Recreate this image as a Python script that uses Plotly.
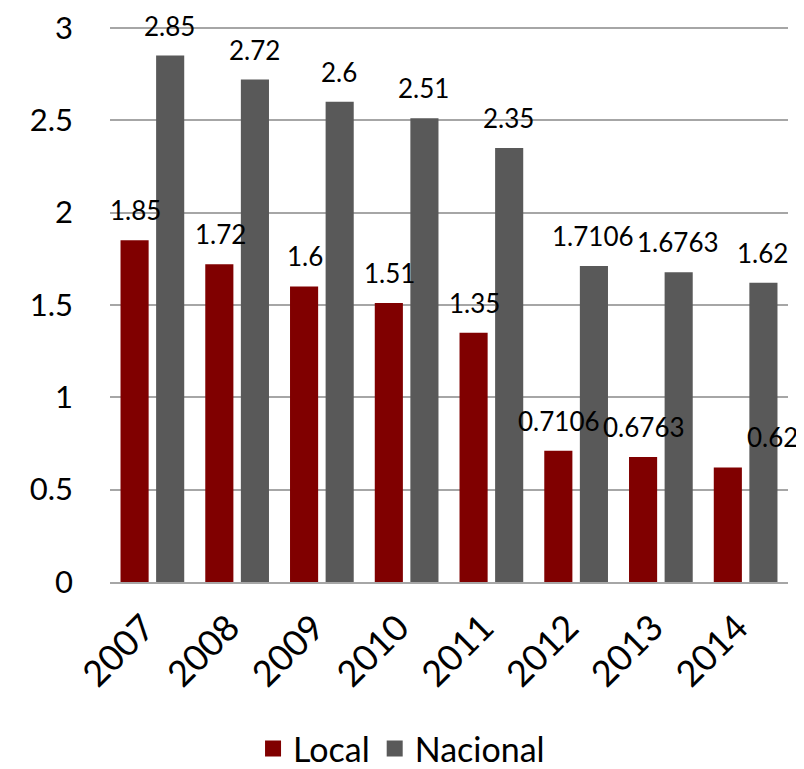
import plotly.graph_objects as go

YEARS = ["2007", "2008", "2009", "2010", "2011", "2012", "2013", "2014"]
LOCAL = [1.85, 1.72, 1.6, 1.51, 1.35, 0.7106, 0.6763, 0.62]
NACIONAL = [2.85, 2.72, 2.6, 2.51, 2.35, 1.7106, 1.6763, 1.62]

LOCAL_COLOR = "#800000"
NACIONAL_COLOR = "#595959"
GRID = "#a6a6a6"
FONT = "Lato, 'Noto Sans', sans-serif"

fig = go.Figure()
fig.add_trace(go.Bar(x=YEARS, y=LOCAL, name="Local", showlegend=False,
                     marker=dict(color=LOCAL_COLOR, line=dict(width=0))))
fig.add_trace(go.Bar(x=YEARS, y=NACIONAL, name="Nacional", showlegend=False,
                     marker=dict(color=NACIONAL_COLOR, line=dict(width=0))))

# legend-only entries so the swatches can be bigger squares like the original
for name, color in [("Local", LOCAL_COLOR), ("Nacional", NACIONAL_COLOR)]:
    fig.add_trace(go.Scatter(x=[YEARS[0]], y=[None], mode="markers", name=name,
                             marker=dict(symbol="square", size=16, color=color)))

# value labels above bars (Excel-style, fixed size); x given as category index
nudge = {("Local", "2014"): 44}
for name, vals, dx in [("Local", LOCAL, -17), ("Nacional", NACIONAL, 17)]:
    for i, (yr, v) in enumerate(zip(YEARS, vals)):
        fig.add_annotation(x=i, y=v, text=f"{v:g}", showarrow=False,
                           xshift=dx + nudge.get((name, yr), 0), yshift=12,
                           yanchor="bottom", font=dict(size=26, color="black"))

# page body adds an 8px offset, so the figure is 8px smaller than the window
fig.update_layout(
    width=796, height=761,
    paper_bgcolor="white", plot_bgcolor="white",
    font=dict(family=FONT, color="black"),
    barmode="group", bargap=0.16, bargroupgap=0.21,
    margin=dict(l=102, r=16, t=18, b=187, autoexpand=False),
    showlegend=True,
    legend=dict(orientation="h", x=0.43, xanchor="center", y=-0.30, yanchor="middle",
                font=dict(size=34), itemwidth=30, tracegroupgap=0),
)
fig.update_xaxes(
    type="category", categoryorder="array", categoryarray=YEARS,
    range=[-0.5, len(YEARS) - 0.5],
    tickangle=-45, tickfont=dict(size=36), showgrid=False, automargin=False,
    showline=True, linecolor=GRID, linewidth=2, ticks="", ticklabelstandoff=8,
    ticklabelshift=-8,
)
# top slightly above 3 so the 3.0 gridline is drawn
fig.update_yaxes(
    range=[0, 3.01], dtick=0.5, tickfont=dict(size=31), automargin=False,
    showgrid=True, gridcolor=GRID, gridwidth=2, zeroline=False,
    ticklabelstandoff=36, ticks="", ticklabeloverflow="allow",
)

fig.write_html("out.html")
